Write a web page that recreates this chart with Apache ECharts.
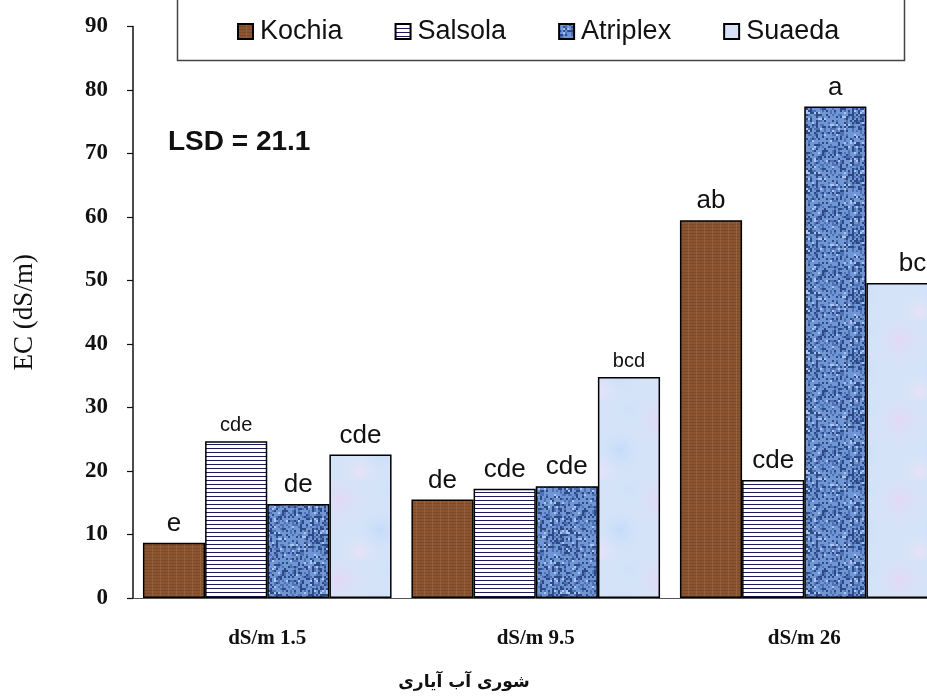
<!DOCTYPE html>
<html>
<head>
<meta charset="utf-8">
<script src="https://cdn.jsdelivr.net/npm/echarts@6/dist/echarts.min.js"></script>
<style>
html,body{margin:0;padding:0;background:#fff;overflow:hidden;width:927px;height:700px;}
#chart{width:945px;height:700px;}
</style>
</head>
<body>
<div id="chart"></div>
<script>
// ---- data ----
const categories = ['dS/m 1.5', 'dS/m 9.5', 'dS/m 26'];
const seriesNames = ['Kochia', 'Salsola', 'Atriplex', 'Suaeda'];
const kochia = [8.7, 15.5, 59.5];
const salsola = [24.7, 17.2, 18.6];
const atriplex = [14.8, 17.6, 77.4];
const suaeda = [22.6, 34.8, 49.6];
const kochiaLetters = ['e', 'de', 'ab'];
const salsolaLetters = ['cde', 'cde', 'cde'];
const atriplexLetters = ['de', 'cde', 'a'];
const suaedaLetters = ['cde', 'bcd', 'bc'];
const yMin = 0, yMax = 90, yInterval = 10;
const lsdText = 'LSD = 21.1';
const yName = 'EC (dS/m)';
const xName = 'شوری آب آیاری';

// ---- textures (style only, deterministic) ----
function tile(w, h, draw) {
  const c = document.createElement('canvas');
  c.width = w; c.height = h;
  draw(c.getContext('2d'), w, h);
  return { image: c, repeat: 'repeat' };
}
function noise(x, y) {
  const s = Math.sin(x * 12.9898 + y * 78.233) * 43758.5453;
  return s - Math.floor(s);
}
const kochiaFill = tile(8, 3, (g, w, h) => {
  g.fillStyle = '#8a5530'; g.fillRect(0, 0, w, h);
  g.fillStyle = '#7c4a29'; g.fillRect(0, 2, w, 1);
  g.fillStyle = '#93603a'; g.fillRect(0, 0, 1, h);
});
const salsolaFill = tile(4, 4, (g, w, h) => {
  g.fillStyle = '#ffffff'; g.fillRect(0, 0, w, h);
  g.fillStyle = '#1c1c5c'; g.fillRect(0, 0, w, 1);
});
const atriplexFill = tile(60, 60, (g, w, h) => {
  g.fillStyle = '#7196d4'; g.fillRect(0, 0, w, h);
  for (let x = 0; x < w; x += 2) for (let y = 0; y < h; y += 2) {
    const v = noise(x, y);
    const weave = ((x % 6 === 0) || (y % 6 === 0)) ? 0.25 : 0;
    const t = v + weave;
    if (t > 0.9) { g.fillStyle = '#2d4a86'; g.fillRect(x, y, 2, 2); }
    else if (t > 0.72) { g.fillStyle = '#4f72b6'; g.fillRect(x, y, 2, 2); }
    else if (t < 0.15) { g.fillStyle = '#aac6f0'; g.fillRect(x, y, 2, 2); }
  }
});
const suaedaFill = tile(80, 80, (g, w, h) => {
  g.fillStyle = '#d5e3f8'; g.fillRect(0, 0, w, h);
  const blobs = [[20, 20, 30, 'rgba(230,214,246,0.8)'], [60, 50, 26, 'rgba(190,218,250,0.8)'], [40, 72, 22, 'rgba(236,226,250,0.8)'], [70, 10, 18, 'rgba(200,226,252,0.7)']];
  blobs.forEach(([x, y, r, c]) => {
    const gr = g.createRadialGradient(x, y, 0, x, y, r);
    gr.addColorStop(0, c); gr.addColorStop(1, 'rgba(213,227,248,0)');
    g.fillStyle = gr; g.fillRect(0, 0, w, h);
  });
});
const fills = [kochiaFill, salsolaFill, atriplexFill, suaedaFill];
const values = [kochia, salsola, atriplex, suaeda];
const letters = [kochiaLetters, salsolaLetters, atriplexLetters, suaedaLetters];
// small-font labels (style)
const smallLabel = { '1-0': true, '3-1': true };
const labelOffset = { '3-2': [15, 0] };

const series = seriesNames.map((name, si) => ({
  name,
  type: 'bar',
  barGap: '0%',
  barCategoryGap: '7.4%',
  itemStyle: { color: fills[si], borderColor: '#000', borderWidth: 1.5 },
  data: values[si].map((v, ci) => {
    const key = si + '-' + ci;
    const lab = {
      show: true, position: 'top', distance: 6,
      formatter: letters[si][ci],
      color: '#111', fontFamily: 'Liberation Sans, Arial', fontSize: smallLabel[key] ? 20 : 26
    };
    if (labelOffset[key]) lab.offset = labelOffset[key];
    return { value: v, label: lab };
  })
}));

const chart = echarts.init(document.getElementById('chart'), null, { renderer: 'canvas' });
chart.setOption({
  animation: false,
  backgroundColor: '#fff',
  grid: { left: 133, top: 26.5, width: 805.5, bottom: 102, containLabel: false },
  legend: {
    data: seriesNames,
    left: 232, top: 13,
    icon: 'rect', itemWidth: 15, itemHeight: 15, itemGap: 52,
    textStyle: { fontFamily: 'Liberation Sans, Arial', fontSize: 27, color: '#111', padding: [0, 0, 0, 2] }
  },
  xAxis: {
    type: 'category', data: categories,
    axisLine: { lineStyle: { color: '#555', width: 1 } },
    axisTick: { show: false },
    axisLabel: { margin: 30, fontFamily: 'Liberation Serif', fontWeight: 'bold', fontSize: 21, color: '#111' }
  },
  yAxis: {
    type: 'value', min: yMin, max: yMax, interval: yInterval,
    axisLine: { show: true, lineStyle: { color: '#111', width: 1.5 } },
    axisTick: { show: true, inside: false, length: 6, lineStyle: { color: '#111', width: 1.2 } },
    splitLine: { show: false },
    axisLabel: { margin: 25, fontFamily: 'Liberation Serif', fontWeight: 'bold', fontSize: 23, color: '#111' },
    name: yName, nameLocation: 'middle', nameGap: 95, nameRotate: 90,
    nameTextStyle: { fontFamily: 'Liberation Serif', fontSize: 27, color: '#111' }
  },
  graphic: [
    { type: 'rect', shape: { x: 177.5, y: -10, width: 727, height: 70.5 }, style: { fill: 'none', stroke: '#444', lineWidth: 1.5 }, z: 10 },
    { type: 'text', left: 168, top: 128, style: { text: lsdText, font: 'bold 28px "Liberation Sans", Arial', fill: '#111' }, z: 10 },
    { type: 'text', x: 464, y: 683, style: { text: xName, font: 'bold 17px "DejaVu Sans"', fill: '#111', align: 'center', verticalAlign: 'middle' }, z: 10 }
  ],
  series
});
</script>
</body>
</html>
